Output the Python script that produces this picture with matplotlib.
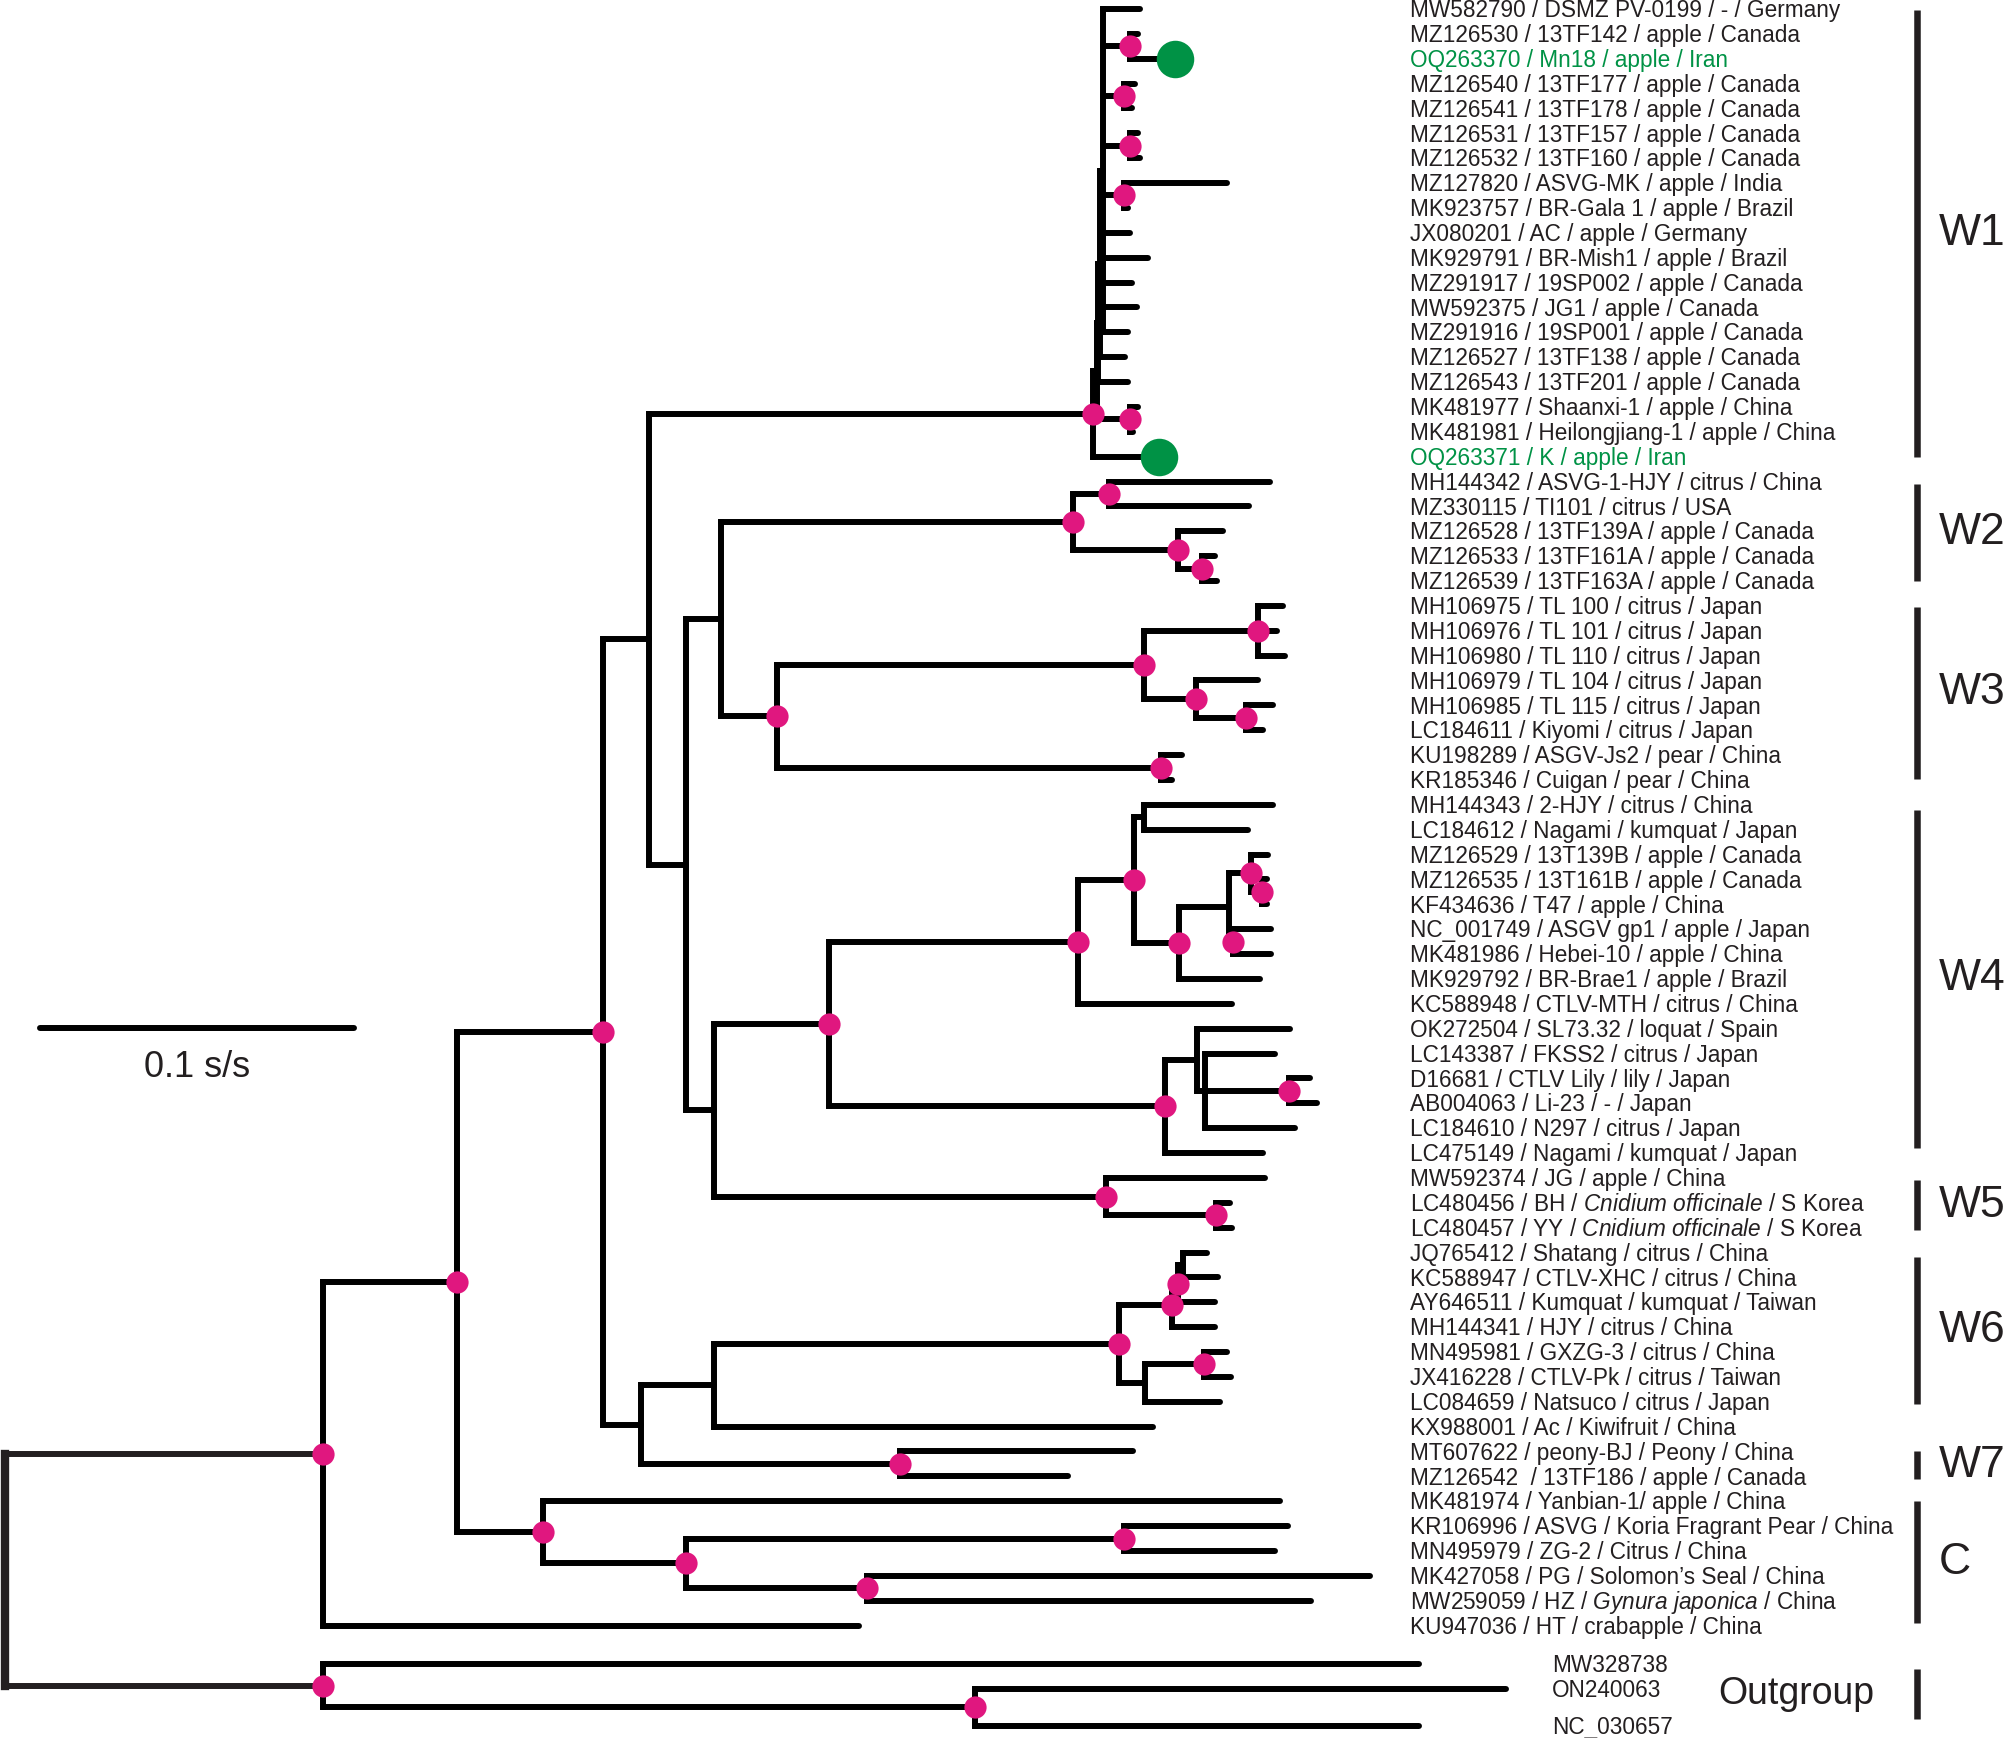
import matplotlib.pyplot as plt

plt.rcParams['font.family'] = ['Liberation Sans', 'DejaVu Sans']
plt.rcParams['mathtext.fontset'] = 'custom'
plt.rcParams['mathtext.rm'] = 'Liberation Sans'
plt.rcParams['mathtext.it'] = 'Liberation Sans:italic'

# ---- internal nodes: name, parent, depth from root (s/s), supported (pink dot)
node_names = ['root', 'A', 'O', 'B', 'D', 'Cc', 'E', 'G', 'W1root', 'F',
              'W1b', 'W1c', 'W1d', 'W1e', 'P1', 'P2', 'P3', 'P4', 'PK',
              'I', 'J', 'W2', 'W2a', 'W2b', 'W2c', 'W3', 'TL', 'TLa', 'TLb', 'TLc', 'KP',
              'W4', 'W4a', 'W4b', 'W4h', 'W4c', 'W4d', 'W4e', 'W4f', 'W4g',
              'W4i', 'W4j', 'W4k', 'W4l', 'W5', 'W5a',
              'H', 'W6', 'W6b', 'W6c', 'W6e', 'W6f', 'W6g', 'W7',
              'C2', 'C3', 'C4', 'O2']
node_parent = [None, 'root', 'root', 'A', 'B', 'B', 'D', 'D', 'E', 'E',
               'W1root', 'W1b', 'W1c', 'W1d', 'W1e', 'W1e', 'W1e', 'W1e', 'W1b',
               'F', 'F', 'I', 'W2', 'W2', 'W2b', 'I', 'W3', 'TL', 'TL', 'TLb', 'W3',
               'J', 'W4', 'W4a', 'W4b', 'W4b', 'W4c', 'W4d', 'W4e', 'W4d',
               'W4', 'W4i', 'W4j', 'W4k', 'J', 'W5',
               'G', 'H', 'W6', 'W6b', 'W6c', 'W6', 'W6f', 'G',
               'Cc', 'C2', 'C2', 'O']
node_depth = [0.0, 0.1012, 0.1012, 0.1440, 0.1905, 0.1713, 0.2050, 0.2025, 0.3464, 0.2168,
              0.3477, 0.3482, 0.3487, 0.3498, 0.3583, 0.3564, 0.3583, 0.3564, 0.3583,
              0.2279, 0.2259, 0.3400, 0.3517, 0.3736, 0.3813, 0.2458, 0.3627, 0.3991, 0.3793, 0.3952, 0.3681,
              0.2624, 0.3418, 0.3595, 0.3627, 0.3740, 0.3899, 0.3967, 0.4004, 0.3911,
              0.3694, 0.3795, 0.3822, 0.4089, 0.3506, 0.3856,
              0.2259, 0.3548, 0.3718, 0.3735, 0.3752, 0.3630, 0.3818, 0.2851,
              0.2168, 0.3565, 0.2745, 0.3088]
unsupported = ['root', 'E', 'F', 'G', 'H', 'I', 'J', 'W1b', 'W1c', 'W1d', 'W1e',
               'W4d', 'W4h', 'W4j', 'W4k', 'W6e', 'W6f']

# ---- leaves: label, parent node, depth (s/s)
leaf_labels = [
    'MW582790 / DSMZ PV-0199 / - / Germany', 'MZ126530 / 13TF142 / apple / Canada',
    'OQ263370 / Mn18 / apple / Iran', 'MZ126540 / 13TF177 / apple / Canada',
    'MZ126541 / 13TF178 / apple / Canada', 'MZ126531 / 13TF157 / apple / Canada',
    'MZ126532 / 13TF160 / apple / Canada', 'MZ127820 / ASVG-MK / apple / India',
    'MK923757 / BR-Gala 1 / apple / Brazil', 'JX080201 / AC / apple / Germany',
    'MK929791 / BR-Mish1 / apple / Brazil', 'MZ291917 / 19SP002 / apple / Canada',
    'MW592375 / JG1 / apple / Canada', 'MZ291916 / 19SP001 / apple / Canada',
    'MZ126527 / 13TF138 / apple / Canada', 'MZ126543 / 13TF201 / apple / Canada',
    'MK481977 / Shaanxi-1 / apple / China', 'MK481981 / Heilongjiang-1 / apple / China',
    'OQ263371 / K / apple / Iran',
    'MH144342 / ASVG-1-HJY / citrus / China', 'MZ330115 / TI101 / citrus / USA',
    'MZ126528 / 13TF139A / apple / Canada', 'MZ126533 / 13TF161A / apple / Canada',
    'MZ126539 / 13TF163A / apple / Canada',
    'MH106975 / TL 100 / citrus / Japan', 'MH106976 / TL 101 / citrus / Japan',
    'MH106980 / TL 110 / citrus / Japan', 'MH106979 / TL 104 / citrus / Japan',
    'MH106985 / TL 115 / citrus / Japan', 'LC184611 / Kiyomi / citrus / Japan',
    'KU198289 / ASGV-Js2 / pear / China', 'KR185346 / Cuigan / pear / China',
    'MH144343 / 2-HJY / citrus / China', 'LC184612 / Nagami / kumquat / Japan',
    'MZ126529 / 13T139B / apple / Canada', 'MZ126535 / 13T161B / apple / Canada',
    'KF434636 / T47 / apple / China', 'NC_001749 / ASGV gp1 / apple / Japan',
    'MK481986 / Hebei-10 / apple / China', 'MK929792 / BR-Brae1 / apple / Brazil',
    'KC588948 / CTLV-MTH / citrus / China', 'OK272504 / SL73.32 / loquat / Spain',
    'LC143387 / FKSS2 / citrus / Japan', 'D16681 / CTLV Lily / lily / Japan',
    'AB004063 / Li-23 / - / Japan', 'LC184610 / N297 / citrus / Japan',
    'LC475149 / Nagami / kumquat / Japan',
    'MW592374 / JG / apple / China',
    r'LC480456 / BH / $\mathit{Cnidium\ officinale}$ / S Korea',
    r'LC480457 / YY / $\mathit{Cnidium\ officinale}$ / S Korea',
    'JQ765412 / Shatang / citrus / China', 'KC588947 / CTLV-XHC / citrus / China',
    'AY646511 / Kumquat / kumquat / Taiwan', 'MH144341 / HJY / citrus / China',
    'MN495981 / GXZG-3 / citrus / China', 'JX416228 / CTLV-Pk / citrus / Taiwan',
    'LC084659 / Natsuco / citrus / Japan', 'KX988001 / Ac / Kiwifruit / China',
    'MT607622 / peony-BJ / Peony / China', 'MZ126542  / 13TF186 / apple / Canada',
    'MK481974 / Yanbian-1/ apple / China', 'KR106996 / ASVG / Koria Fragrant Pear / China',
    'MN495979 / ZG-2 / Citrus / China', 'MK427058 / PG / Solomon\u2019s Seal / China',
    r'MW259059 / HZ / $\mathit{Gynura\ japonica}$ / China', 'KU947036 / HT / crabapple / China',
    'MW328738', 'ON240063', 'NC_030657']
leaf_parent = ['W1e', 'P1', 'P1', 'P2', 'P2', 'P3', 'P3', 'P4', 'P4', 'W1e',
               'W1e', 'W1e', 'W1e', 'W1e', 'W1d', 'W1c', 'PK', 'PK', 'W1root',
               'W2a', 'W2a', 'W2b', 'W2c', 'W2c',
               'TLa', 'TLa', 'TLa', 'TLb', 'TLc', 'TLc', 'KP', 'KP',
               'W4h', 'W4h', 'W4e', 'W4f', 'W4f', 'W4g', 'W4g', 'W4c', 'W4a',
               'W4j', 'W4k', 'W4l', 'W4l', 'W4k', 'W4i',
               'W5', 'W5a', 'W5a',
               'W6e', 'W6e', 'W6c', 'W6b', 'W6g', 'W6g', 'W6f', 'H',
               'W7', 'W7',
               'Cc', 'C3', 'C3', 'C4', 'C4', 'A',
               'O', 'O2', 'O2']
leaf_depth = [0.3615, 0.3609, 0.3726, 0.3599, 0.3588, 0.3609, 0.3615, 0.3891, 0.3577, 0.3583,
              0.3641, 0.3588, 0.3604, 0.3577, 0.3567, 0.3577, 0.3609, 0.3593, 0.3676,
              0.4028, 0.3963, 0.3878, 0.3854, 0.3859,
              0.4071, 0.4050, 0.4076, 0.3991, 0.4039, 0.4007, 0.3747, 0.3715,
              0.4039, 0.3960, 0.4023, 0.4018, 0.4018, 0.4031, 0.4031, 0.3997, 0.3907,
              0.4092, 0.4044, 0.4156, 0.4177, 0.4108, 0.4007,
              0.4013, 0.3901, 0.3907,
              0.3827, 0.3864, 0.3854, 0.3854, 0.3891, 0.3904, 0.3869, 0.3657,
              0.3593, 0.3385,
              0.4062, 0.4087, 0.4046, 0.4348, 0.4160, 0.2721,
              0.4503, 0.4780, 0.4503]
leaf_rows = list(range(66)) + [66.55, 67.53, 69.02]
new_isolates = ['OQ263370 / Mn18 / apple / Iran', 'OQ263371 / K / apple / Iran']
outgroup = ['MW328738', 'ON240063', 'NC_030657']

# ---- clade bars: name, first leaf row, last leaf row
clade_names = ['W1', 'W2', 'W3', 'W4', 'W5', 'W6', 'W7', 'C', 'Outgroup']
clade_first = [0.05, 19.1, 24.05, 32.2, 47.1, 50.2, 58.0, 60.0, 66.75]
clade_last = [18.0, 23.0, 30.95, 45.8, 49.1, 56.1, 59.1, 64.9, 68.75]

# ---- build tree geometry
depth = dict(zip(node_names, node_depth))
children = {n: [] for n in node_names}
for n, p in zip(node_names, node_parent):
    if p is not None:
        children[p].append(('node', n))
for i, p in enumerate(leaf_parent):
    children[p].append(('leaf', i))

row = {}


def node_row(n):
    rs = [leaf_rows[c] if k == 'leaf' else node_row(c) for k, c in children[n]]
    row[n] = (min(rs) + max(rs)) / 2
    return row[n]


node_row('root')

pink = '#e0177f'
green = '#009245'
lw = 4.3

fig = plt.figure(figsize=(20.08, 17.38), dpi=100)
ax = fig.add_axes([0, 0, 1, 1])
ax.set_xlim(-5 / 3140, 2003 / 3140)
ax.set_ylim(69.52, -0.36)
ax.axis('off')

# vertical connectors
for n in node_names:
    rs = [leaf_rows[c] if k == 'leaf' else row[c] for k, c in children[n]]
    col = '#231f20' if n == 'root' else 'black'
    ax.plot([depth[n], depth[n]], [min(rs), max(rs)], color=col,
            lw=6 if n == 'root' else lw, solid_capstyle='projecting', zorder=2)

# horizontal branches
for n, p in zip(node_names, node_parent):
    if p is None:
        continue
    col = '#231f20' if p == 'root' else 'black'
    ax.plot([depth[p], depth[n]], [row[n], row[n]], color=col, lw=lw,
            solid_capstyle='round', zorder=2)
for i, p in enumerate(leaf_parent):
    ax.plot([depth[p], leaf_depth[i]], [leaf_rows[i], leaf_rows[i]], color='black',
            lw=lw, solid_capstyle='round', zorder=2)

# supported nodes
for n in node_names:
    if n not in unsupported:
        ax.plot(depth[n], row[n], 'o', color=pink, ms=16, mec='none', zorder=3)

# leaf labels
lab_x = 0.4475
out_x = 0.4927
for i, lab in enumerate(leaf_labels):
    if lab in new_isolates:
        ax.plot(leaf_depth[i], leaf_rows[i], 'o', color=green, ms=27, mec='none', zorder=3)
        col = green
    else:
        col = '#231f20'
    x = out_x if lab in outgroup else lab_x
    ax.text(x, leaf_rows[i] + 0.33, lab, fontsize=16.3, color=col, va='baseline', ha='left')

# clade bars and names
bar_x = 0.6089
for name, r0, r1 in zip(clade_names, clade_first, clade_last):
    ax.plot([bar_x, bar_x], [r0, r1], color='#231f20', lw=4.7, solid_capstyle='butt')
    if name == 'Outgroup':
        ax.text(0.5457, (r0 + r1) / 2, name, fontsize=27, va='center', ha='left', color='#231f20')
    else:
        ax.text(0.6159, (r0 + r1) / 2, name, fontsize=32, va='center', ha='left', color='#231f20')

# scale bar
sb_x = 0.01115
ax.plot([sb_x, sb_x + 0.1], [40.97, 40.97], color='black', lw=lw, solid_capstyle='round')
ax.text(sb_x + 0.05, 42.55, '0.1 s/s', fontsize=26, ha='center', va='center', color='#231f20')

fig.savefig('out.png', dpi=100)
